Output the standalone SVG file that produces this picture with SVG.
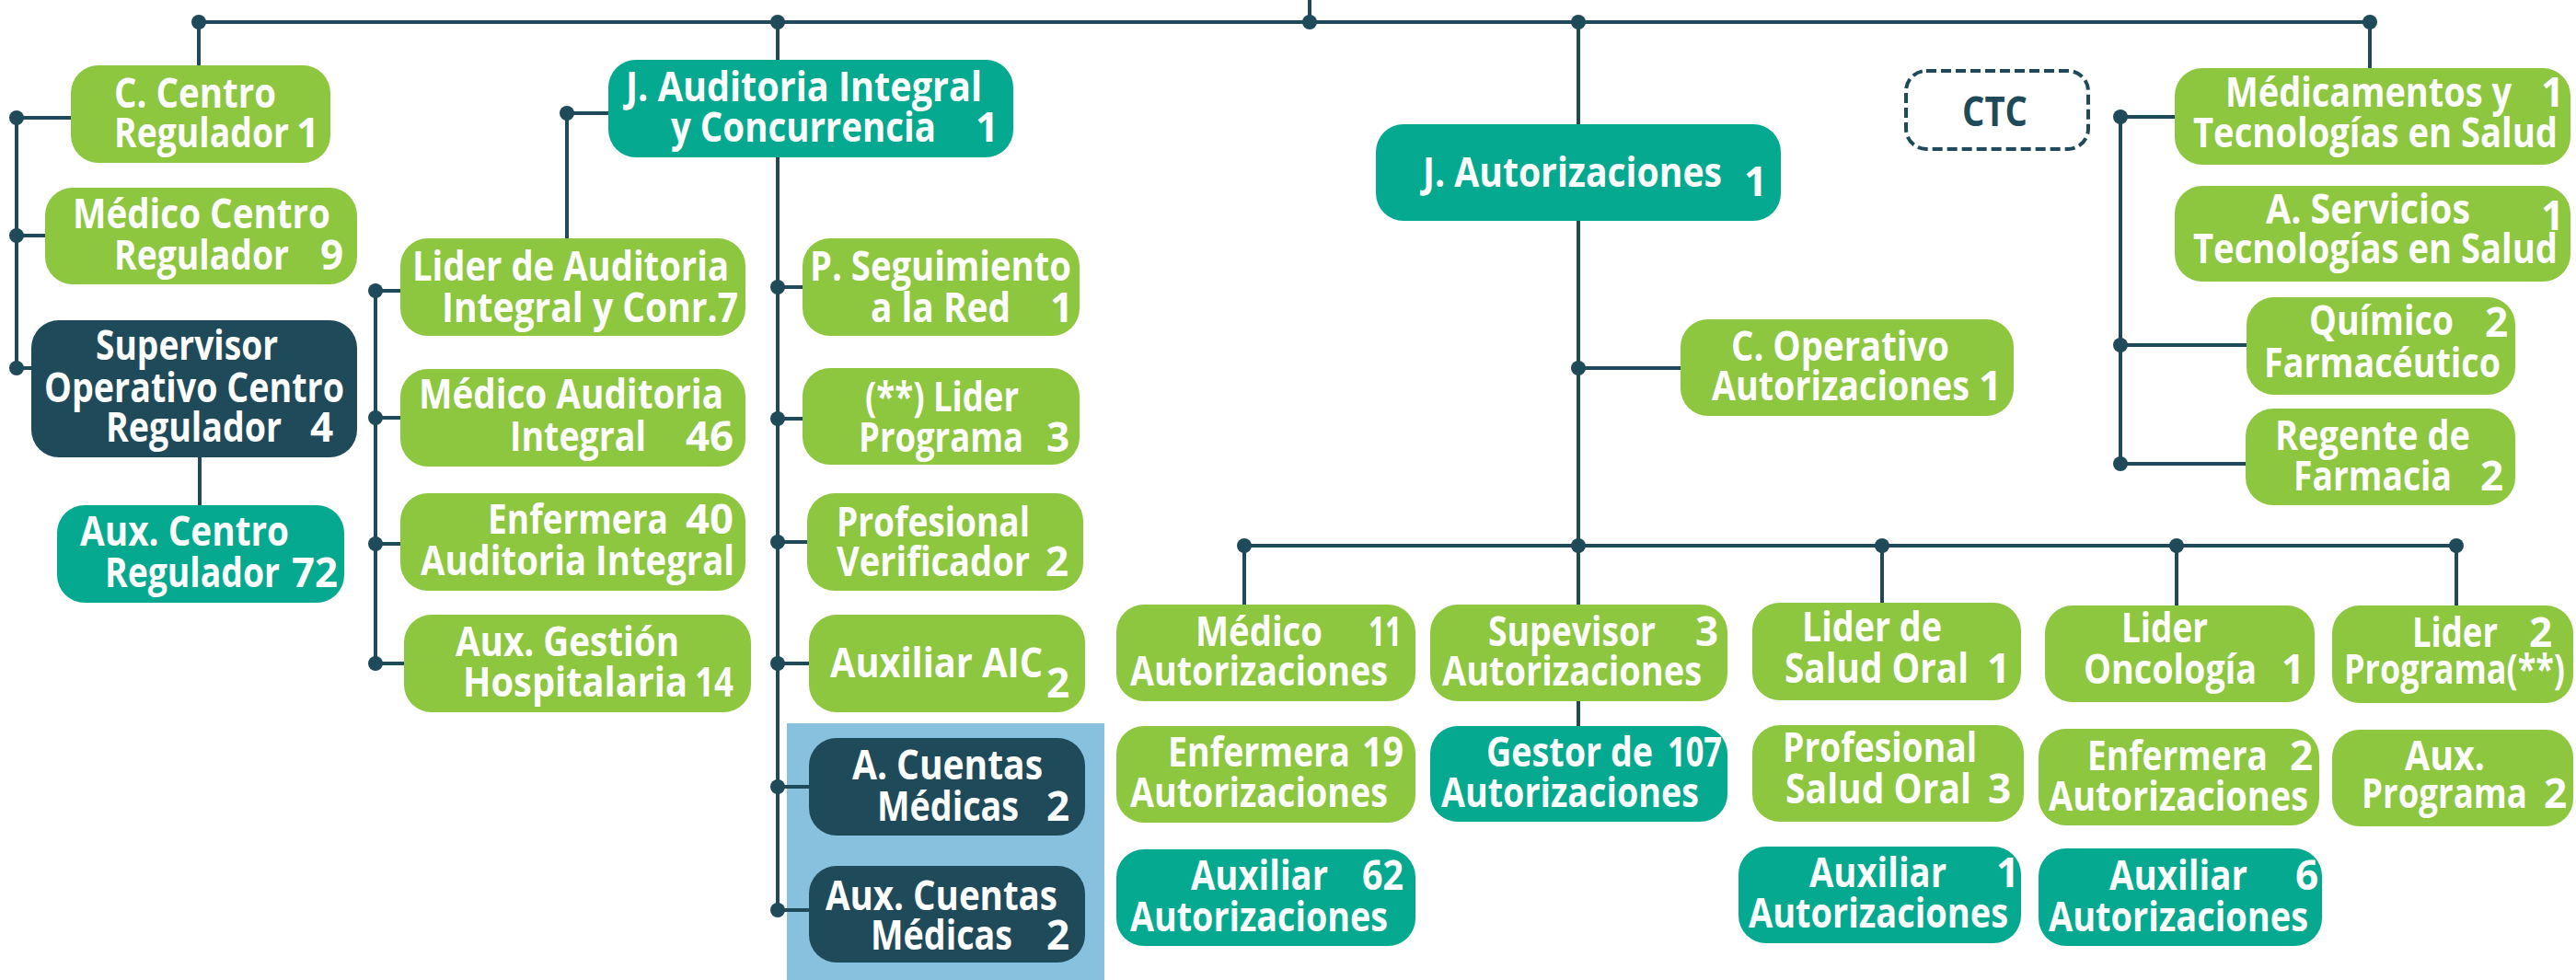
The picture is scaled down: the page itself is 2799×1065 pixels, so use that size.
<svg xmlns="http://www.w3.org/2000/svg" width="2799" height="1065" viewBox="0 0 2799 1065">
<style>
.g{fill:#8DC63F}
.t{fill:#04A98F}
.d{fill:#1F4A5A}
.hl{fill:#88C1DE}
.ln{stroke:#1F4A5A;stroke-width:4;fill:none}
.dot{fill:#1F4A5A}
.ctc{fill:none;stroke:#1F4A5A;stroke-width:4;stroke-dasharray:11 5}
text{font-family:"Open Sans","Noto Sans","Liberation Sans",sans-serif;font-weight:700;font-size:44px;fill:#fff}
text.dk{fill:#1F4A5A;font-weight:700}
</style>
<rect width="2799" height="1065" fill="#fff"/>
<rect class="hl" x="855" y="786" width="345" height="279"/>
<g id="connectors">
<path class="ln" d="M216,24 H2575 M1423,0 V24 M216,24 V71 M845,24 V989 M1715,24 V789 M2575,24 V74"/>
<path class="ln" d="M18,128 V400 M18,128 H77 M18,256 H49 M18,400 H34 M217,497 V549"/>
<path class="ln" d="M661,123 H616 V259 M408,316 V721 M408,316 H435 M408,454 H435 M408,591 H435 M408,721 H439"/>
<path class="ln" d="M845,312 H872 M845,455 H872 M845,589 H877 M845,721 H879 M845,855 H879 M845,989 H879"/>
<path class="ln" d="M1715,400 H1826 M1352,593 H2669 M1352,593 V657 M2045,593 V655 M2365,593 V658 M2669,593 V658"/>
<path class="ln" d="M2304,127 V504 M2304,127 H2363 M2304,375 H2441 M2304,504 H2440"/>
<g class="dot">
<circle cx="216" cy="24" r="8"/><circle cx="845" cy="24" r="8"/><circle cx="1423" cy="24" r="8"/><circle cx="1715" cy="24" r="8"/><circle cx="2575" cy="24" r="8"/>
<circle cx="18" cy="128" r="8"/><circle cx="18" cy="256" r="8"/><circle cx="18" cy="400" r="8"/>
<circle cx="616" cy="123" r="8"/><circle cx="408" cy="316" r="8"/><circle cx="408" cy="454" r="8"/><circle cx="408" cy="591" r="8"/><circle cx="408" cy="721" r="8"/>
<circle cx="845" cy="312" r="8"/><circle cx="845" cy="455" r="8"/><circle cx="845" cy="589" r="8"/><circle cx="845" cy="721" r="8"/><circle cx="845" cy="855" r="8"/><circle cx="845" cy="989" r="8"/>
<circle cx="1715" cy="400" r="8"/><circle cx="1352" cy="593" r="8"/><circle cx="1715" cy="593" r="8"/><circle cx="2045" cy="593" r="8"/><circle cx="2365" cy="593" r="8"/><circle cx="2669" cy="593" r="8"/>
<circle cx="2304" cy="127" r="8"/><circle cx="2304" cy="375" r="8"/><circle cx="2304" cy="504" r="8"/>
</g>
</g>

<g id="n-c-centro"><rect class="g" x="77" y="71" width="282" height="106" rx="30"/>
<text x="124" y="117" textLength="176" lengthAdjust="spacingAndGlyphs">C. Centro</text>
<text x="124" y="160" textLength="190" lengthAdjust="spacingAndGlyphs">Regulador</text><text x="322" y="160">1</text></g>

<g id="n-medico-cr"><rect class="g" x="49" y="204" width="339" height="105" rx="30"/>
<text x="79" y="248" textLength="280" lengthAdjust="spacingAndGlyphs">Médico Centro</text>
<text x="124" y="293" textLength="190" lengthAdjust="spacingAndGlyphs">Regulador</text><text x="348" y="293">9</text></g>

<g id="n-supervisor"><rect class="d" x="34" y="348" width="354" height="149" rx="30"/>
<text x="104" y="391" textLength="198" lengthAdjust="spacingAndGlyphs">Supervisor</text>
<text x="48" y="437" textLength="326" lengthAdjust="spacingAndGlyphs">Operativo Centro</text>
<text x="115" y="480" textLength="191" lengthAdjust="spacingAndGlyphs">Regulador</text><text x="337" y="480">4</text></g>

<g id="n-aux-cr"><rect class="t" x="62" y="549" width="312" height="106" rx="30"/>
<text x="87" y="593" textLength="227" lengthAdjust="spacingAndGlyphs">Aux. Centro</text>
<text x="114" y="638" textLength="190" lengthAdjust="spacingAndGlyphs">Regulador</text><text x="317" y="638" textLength="50" lengthAdjust="spacingAndGlyphs">72</text></g>

<g id="n-j-auditoria"><rect class="t" x="661" y="65" width="440" height="106" rx="30"/>
<text x="680" y="110" textLength="387" lengthAdjust="spacingAndGlyphs">J. Auditoria Integral</text>
<text x="729" y="154" textLength="288" lengthAdjust="spacingAndGlyphs">y Concurrencia</text><text x="1060" y="154">1</text></g>

<g id="n-lider-auditoria"><rect class="g" x="435" y="259" width="375" height="106" rx="30"/>
<text x="448" y="305" textLength="344" lengthAdjust="spacingAndGlyphs">Lider de Auditoria</text>
<text x="480" y="350" textLength="322" lengthAdjust="spacingAndGlyphs">Integral y Conr.7</text></g>

<g id="n-medico-auditoria"><rect class="g" x="435" y="401" width="375" height="106" rx="30"/>
<text x="455" y="444" textLength="331" lengthAdjust="spacingAndGlyphs">Médico Auditoria</text>
<text x="554" y="490" textLength="148" lengthAdjust="spacingAndGlyphs">Integral</text><text x="745" y="490" textLength="52" lengthAdjust="spacingAndGlyphs">46</text></g>

<g id="n-enfermera-auditoria"><rect class="g" x="435" y="536" width="375" height="106" rx="30"/>
<text x="530" y="580" textLength="196" lengthAdjust="spacingAndGlyphs">Enfermera</text><text x="745" y="580" textLength="52" lengthAdjust="spacingAndGlyphs">40</text>
<text x="457" y="625" textLength="341" lengthAdjust="spacingAndGlyphs">Auditoria Integral</text></g>

<g id="n-aux-gestion"><rect class="g" x="439" y="668" width="377" height="106" rx="30"/>
<text x="495" y="713" textLength="243" lengthAdjust="spacingAndGlyphs">Aux. Gestión</text>
<text x="503" y="757" textLength="244" lengthAdjust="spacingAndGlyphs">Hospitalaria</text><text x="755" y="757" textLength="42" lengthAdjust="spacingAndGlyphs">14</text></g>

<g id="n-p-seguimiento"><rect class="g" x="872" y="259" width="301" height="106" rx="30"/>
<text x="880" y="305" textLength="284" lengthAdjust="spacingAndGlyphs">P. Seguimiento</text>
<text x="946" y="350" textLength="152" lengthAdjust="spacingAndGlyphs">a la Red</text><text x="1141" y="350">1</text></g>

<g id="n-lider-programa"><rect class="g" x="872" y="400" width="301" height="105" rx="30"/>
<text x="940" y="447" textLength="167" lengthAdjust="spacingAndGlyphs">(**) Lider</text>
<text x="933" y="491" textLength="179" lengthAdjust="spacingAndGlyphs">Programa</text><text x="1137" y="491">3</text></g>

<g id="n-profesional-verificador"><rect class="g" x="877" y="536" width="300" height="106" rx="30"/>
<text x="909" y="583" textLength="210" lengthAdjust="spacingAndGlyphs">Profesional</text>
<text x="909" y="626" textLength="210" lengthAdjust="spacingAndGlyphs">Verificador</text><text x="1136" y="626">2</text></g>

<g id="n-auxiliar-aic"><rect class="g" x="879" y="668" width="300" height="106" rx="30"/>
<text x="902" y="736" textLength="231" lengthAdjust="spacingAndGlyphs">Auxiliar AIC</text><text x="1137" y="758">2</text></g>

<g id="n-a-cuentas"><rect class="d" x="879" y="802" width="300" height="106" rx="30"/>
<text x="926" y="847" textLength="207" lengthAdjust="spacingAndGlyphs">A. Cuentas</text>
<text x="953" y="892" textLength="154" lengthAdjust="spacingAndGlyphs">Médicas</text><text x="1137" y="892">2</text></g>

<g id="n-aux-cuentas"><rect class="d" x="879" y="941" width="300" height="105" rx="30"/>
<text x="897" y="989" textLength="252" lengthAdjust="spacingAndGlyphs">Aux. Cuentas</text>
<text x="946" y="1032" textLength="154" lengthAdjust="spacingAndGlyphs">Médicas</text><text x="1137" y="1032">2</text></g>

<g id="n-j-autorizaciones"><rect class="t" x="1495" y="135" width="440" height="105" rx="30"/>
<text x="1546" y="203" textLength="325" lengthAdjust="spacingAndGlyphs">J. Autorizaciones</text><text x="1895" y="213">1</text></g>

<g id="n-c-operativo"><rect class="g" x="1826" y="347" width="362" height="105" rx="30"/>
<text x="1881" y="392" textLength="237" lengthAdjust="spacingAndGlyphs">C. Operativo</text>
<text x="1860" y="435" textLength="280" lengthAdjust="spacingAndGlyphs">Autorizaciones</text><text x="2150" y="435">1</text></g>

<g id="n-ctc"><rect class="ctc" x="2071" y="77" width="198" height="85" rx="22"/>
<text class="dk" x="2132" y="137" textLength="71" lengthAdjust="spacingAndGlyphs">CTC</text></g>

<g id="n-medicamentos"><rect class="g" x="2363" y="74" width="430" height="105" rx="30"/>
<text x="2418" y="116" textLength="311" lengthAdjust="spacingAndGlyphs">Médicamentos y</text><text x="2761" y="116">1</text>
<text x="2383" y="160" textLength="396" lengthAdjust="spacingAndGlyphs">Tecnologías en Salud</text></g>

<g id="n-a-servicios"><rect class="g" x="2363" y="202" width="430" height="104" rx="30"/>
<text x="2462" y="243" textLength="222" lengthAdjust="spacingAndGlyphs">A. Servicios</text><text x="2761" y="250">1</text>
<text x="2383" y="286" textLength="396" lengthAdjust="spacingAndGlyphs">Tecnologías en Salud</text></g>

<g id="n-quimico"><rect class="g" x="2441" y="323" width="292" height="106" rx="30"/>
<text x="2509" y="364" textLength="157" lengthAdjust="spacingAndGlyphs">Químico</text><text x="2700" y="366">2</text>
<text x="2460" y="410" textLength="257" lengthAdjust="spacingAndGlyphs">Farmacéutico</text></g>

<g id="n-regente"><rect class="g" x="2440" y="444" width="293" height="105" rx="30"/>
<text x="2472" y="489" textLength="212" lengthAdjust="spacingAndGlyphs">Regente de</text>
<text x="2492" y="533" textLength="172" lengthAdjust="spacingAndGlyphs">Farmacia</text><text x="2695" y="533">2</text></g>

<g id="n-medico-aut"><rect class="g" x="1213" y="657" width="325" height="105" rx="30"/>
<text x="1299" y="702" textLength="138" lengthAdjust="spacingAndGlyphs">Médico</text><text x="1487" y="702" textLength="36" lengthAdjust="spacingAndGlyphs">11</text>
<text x="1228" y="745" textLength="280" lengthAdjust="spacingAndGlyphs">Autorizaciones</text></g>

<g id="n-enfermera-aut"><rect class="g" x="1213" y="789" width="325" height="105" rx="30"/>
<text x="1269" y="833" textLength="198" lengthAdjust="spacingAndGlyphs">Enfermera</text><text x="1480" y="833" textLength="45" lengthAdjust="spacingAndGlyphs">19</text>
<text x="1228" y="877" textLength="280" lengthAdjust="spacingAndGlyphs">Autorizaciones</text></g>

<g id="n-auxiliar-aut62"><rect class="t" x="1213" y="923" width="325" height="105" rx="30"/>
<text x="1294" y="967" textLength="149" lengthAdjust="spacingAndGlyphs">Auxiliar</text><text x="1480" y="967" textLength="45" lengthAdjust="spacingAndGlyphs">62</text>
<text x="1228" y="1012" textLength="280" lengthAdjust="spacingAndGlyphs">Autorizaciones</text></g>

<g id="n-supevisor-aut"><rect class="g" x="1554" y="657" width="323" height="105" rx="30"/>
<text x="1617" y="702" textLength="182" lengthAdjust="spacingAndGlyphs">Supevisor</text><text x="1842" y="702">3</text>
<text x="1567" y="745" textLength="282" lengthAdjust="spacingAndGlyphs">Autorizaciones</text></g>

<g id="n-gestor"><rect class="t" x="1554" y="789" width="323" height="104" rx="30"/>
<text x="1615" y="833" textLength="181" lengthAdjust="spacingAndGlyphs">Gestor de</text><text x="1812" y="833" textLength="59" lengthAdjust="spacingAndGlyphs">107</text>
<text x="1566" y="877" textLength="280" lengthAdjust="spacingAndGlyphs">Autorizaciones</text></g>

<g id="n-lider-salud-oral"><rect class="g" x="1904" y="655" width="292" height="106" rx="30"/>
<text x="1958" y="697" textLength="152" lengthAdjust="spacingAndGlyphs">Lider de</text>
<text x="1939" y="742" textLength="200" lengthAdjust="spacingAndGlyphs">Salud Oral</text><text x="2159" y="742">1</text></g>

<g id="n-profesional-salud-oral"><rect class="g" x="1904" y="788" width="295" height="105" rx="30"/>
<text x="1937" y="828" textLength="211" lengthAdjust="spacingAndGlyphs">Profesional</text>
<text x="1940" y="873" textLength="202" lengthAdjust="spacingAndGlyphs">Salud Oral</text><text x="2160" y="873">3</text></g>

<g id="n-auxiliar-aut1"><rect class="t" x="1889" y="920" width="307" height="105" rx="30"/>
<text x="1966" y="964" textLength="149" lengthAdjust="spacingAndGlyphs">Auxiliar</text><text x="2169" y="964">1</text>
<text x="1900" y="1008" textLength="282" lengthAdjust="spacingAndGlyphs">Autorizaciones</text></g>

<g id="n-lider-oncologia"><rect class="g" x="2222" y="658" width="293" height="105" rx="30"/>
<text x="2305" y="698" textLength="94" lengthAdjust="spacingAndGlyphs">Lider</text>
<text x="2264" y="743" textLength="188" lengthAdjust="spacingAndGlyphs">Oncología</text><text x="2479" y="743">1</text></g>

<g id="n-enfermera-aut2"><rect class="g" x="2215" y="792" width="305" height="105" rx="30"/>
<text x="2268" y="837" textLength="196" lengthAdjust="spacingAndGlyphs">Enfermera</text><text x="2488" y="837">2</text>
<text x="2226" y="881" textLength="282" lengthAdjust="spacingAndGlyphs">Autorizaciones</text></g>

<g id="n-auxiliar-aut6"><rect class="t" x="2215" y="922" width="308" height="106" rx="30"/>
<text x="2292" y="967" textLength="150" lengthAdjust="spacingAndGlyphs">Auxiliar</text><text x="2494" y="967">6</text>
<text x="2226" y="1012" textLength="282" lengthAdjust="spacingAndGlyphs">Autorizaciones</text></g>

<g id="n-lider-programa2"><rect class="g" x="2534" y="658" width="262" height="106" rx="30"/>
<text x="2621" y="703" textLength="93" lengthAdjust="spacingAndGlyphs">Lider</text><text x="2748" y="703">2</text>
<text x="2547" y="743" textLength="240" lengthAdjust="spacingAndGlyphs">Programa(**)</text></g>

<g id="n-aux-programa"><rect class="g" x="2534" y="793" width="262" height="105" rx="30"/>
<text x="2613" y="837" textLength="87" lengthAdjust="spacingAndGlyphs">Aux.</text>
<text x="2566" y="878" textLength="180" lengthAdjust="spacingAndGlyphs">Programa</text><text x="2764" y="878">2</text></g>
</svg>
